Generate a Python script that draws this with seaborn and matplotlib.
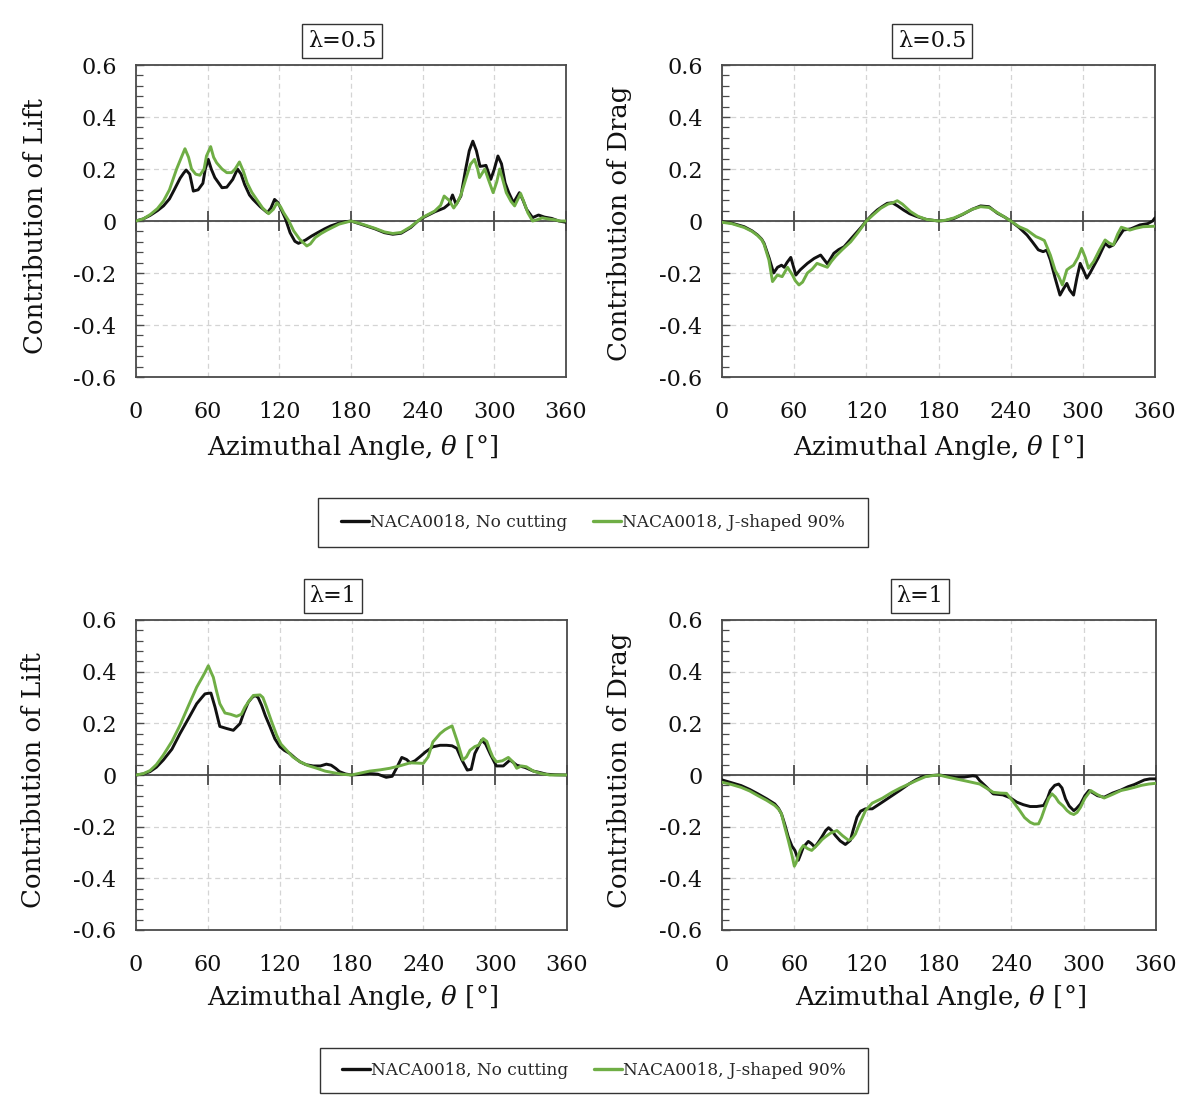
import numpy as np
import pandas as pd
import matplotlib
matplotlib.use("Agg")
import matplotlib.pyplot as plt
from matplotlib.lines import Line2D
from matplotlib.patches import Rectangle
from matplotlib.ticker import MultipleLocator
import seaborn as sns

sns.set_theme(style="white")
plt.rcParams["font.family"] = ["DejaVu Serif"]
plt.rcParams["mathtext.fontset"] = "dejavuserif"
plt.rcParams["axes.unicode_minus"] = False

BASE = "NACA0018, No cutting"
JCUT = "NACA0018, J-shaped 90%"
palette = {BASE: "#111111", JCUT: "#6fae45"}

# ---- lambda = 0.5, lift contribution ----
theta_lift05_base = [0, 6, 12, 18, 23, 28, 32, 37, 40, 42, 45, 48, 52, 56, 58, 60.5, 63, 66, 72, 76,
                     81, 85, 88, 91, 95, 98, 104, 110, 113, 116, 119, 121, 125, 129, 133, 136, 142, 147, 152, 158,
                     163, 170, 175, 180, 190, 200, 208, 215, 222, 230, 236, 240, 250, 258, 262, 265, 268, 272, 276, 279,
                     282, 285, 288, 291, 293, 297, 300, 303, 306, 309, 312, 316, 321, 324, 327, 332, 337, 342, 348, 354, 360]
lift05_base = [0, 0.008, 0.022, 0.04, 0.058, 0.085, 0.12, 0.165, 0.185, 0.196, 0.18, 0.115, 0.12, 0.145, 0.2, 0.237, 0.2, 0.167, 0.128, 0.13,
               0.16, 0.2, 0.18, 0.14, 0.1, 0.083, 0.055, 0.032, 0.05, 0.083, 0.07, 0.05, 0.01, -0.045, -0.078, -0.086, -0.073, -0.058, -0.045, -0.03,
               -0.019, -0.008, -0.003, 0, -0.015, -0.03, -0.045, -0.051, -0.047, -0.025, 0, 0.012, 0.035, 0.05, 0.065, 0.1, 0.064, 0.096, 0.2, 0.27,
               0.307, 0.27, 0.21, 0.212, 0.214, 0.16, 0.2, 0.25, 0.22, 0.147, 0.11, 0.07, 0.109, 0.08, 0.045, 0.013, 0.023, 0.015, 0.01, 0.0, -0.005]
theta_lift05_j = [0, 6, 12, 18, 23, 28, 34, 38, 41, 44, 46.5, 50, 53.5, 57, 59, 62.5, 65, 67.5, 72, 76,
                  80, 83, 86.6, 90, 93, 97, 101, 106, 111, 115, 118, 121, 123.6, 128, 132, 137, 143, 146, 150, 155,
                  160, 170, 180, 190, 200, 208, 215, 222, 230, 236, 240, 250, 255, 258, 262, 266, 269, 272, 276, 280,
                  283.4, 286, 287.6, 290, 292, 295, 299, 302, 304.5, 307, 310, 314, 317, 322, 325, 328, 332, 336, 340, 345,
                  350, 355, 360]
lift05_j = [0, 0.008, 0.025, 0.048, 0.077, 0.12, 0.2, 0.245, 0.278, 0.245, 0.2, 0.18, 0.176, 0.2, 0.25, 0.286, 0.245, 0.224, 0.2, 0.186,
            0.186, 0.2, 0.227, 0.19, 0.147, 0.11, 0.083, 0.05, 0.028, 0.045, 0.07, 0.055, 0.032, 0.0, -0.038, -0.07, -0.096, -0.088, -0.064, -0.048,
            -0.035, -0.012, 0, -0.013, -0.028, -0.042, -0.048, -0.044, -0.022, 0.0, 0.014, 0.038, 0.06, 0.096, 0.08, 0.05, 0.07, 0.1, 0.16, 0.218,
            0.237, 0.2, 0.167, 0.185, 0.2, 0.16, 0.109, 0.15, 0.2, 0.16, 0.109, 0.075, 0.058, 0.106, 0.07, 0.032, 0.0, 0.005, 0.012, 0.008,
            0.005, 0.0, 0.0]

# ---- lambda = 0.5, drag contribution ----
theta_drag05_base = [0, 8, 18.5, 25, 29.6, 33, 35, 39.3, 42.9, 46.2, 49.5, 51.7, 54, 57.2, 61.4, 65, 71, 76.6, 82, 87.6,
                     93, 97, 101.5, 106, 110, 115, 120, 125, 129, 133, 137.4, 141.6, 146, 151, 156, 162, 170, 180, 186, 193,
                     200, 208, 215, 222, 229, 235,
                     240, 247, 253.6, 258, 263, 267, 270, 273, 277, 281, 284, 286.7, 289, 292.3, 295, 297.8, 300.5, 303.3, 306, 308.9,
                     313, 318.5, 322, 325.4, 330, 333.7, 340, 347.5, 354, 358, 360]
drag05_base = [-0.003, -0.008, -0.022, -0.038, -0.054, -0.07, -0.086, -0.144, -0.2, -0.178, -0.17, -0.178, -0.16, -0.14, -0.208, -0.188, -0.163, -0.144, -0.131, -0.165,
               -0.124, -0.11, -0.099, -0.075, -0.054, -0.028, 0.0, 0.025, 0.042, 0.055, 0.068, 0.07, 0.058, 0.042, 0.028, 0.017, 0.006, 0.0, 0.002, 0.01,
               0.025, 0.045, 0.058, 0.055, 0.03, 0.015,
               0, -0.025, -0.054, -0.08, -0.111, -0.118, -0.112, -0.15, -0.22, -0.285, -0.26, -0.24, -0.265, -0.285, -0.22, -0.163, -0.19, -0.22, -0.2, -0.175,
               -0.14, -0.086, -0.1, -0.092, -0.06, -0.035, -0.03, -0.015, -0.01, 0.0, 0.012]
theta_drag05_j = [0, 8, 18.5, 25, 29.6, 33, 35, 39, 42, 46, 50, 54.5, 58.6, 61, 64, 67, 71, 75, 79, 83,
                  87.6, 91, 94.6, 100, 107, 113, 120, 126, 132, 138, 142, 145.7, 150, 156.8, 163, 170, 180, 186, 193, 200,
                  208, 215, 222, 229, 235,
                  240, 247, 253.6, 258, 261, 264.6, 268, 273, 277, 280, 283, 286.7, 289, 292.3, 296, 299, 302, 304.7, 309, 314,
                  318.5, 322, 325.4, 329, 332, 336, 339, 344, 350, 355, 360]
drag05_j = [-0.005, -0.01, -0.025, -0.04, -0.056, -0.072, -0.09, -0.15, -0.233, -0.208, -0.214, -0.178, -0.208, -0.23, -0.246, -0.235, -0.2, -0.185, -0.163, -0.17,
            -0.178, -0.155, -0.135, -0.11, -0.08, -0.045, 0.0, 0.025, 0.049, 0.065, 0.07, 0.078, 0.065, 0.036, 0.018, 0.006, 0.0, 0.003, 0.012, 0.026,
            0.045, 0.055, 0.052, 0.032, 0.015,
            0.0, -0.022, -0.035, -0.05, -0.06, -0.067, -0.075, -0.131, -0.19, -0.214, -0.246, -0.188, -0.18, -0.17, -0.14, -0.105, -0.14, -0.182, -0.156, -0.11,
            -0.073, -0.085, -0.092, -0.05, -0.024, -0.03, -0.035, -0.028, -0.022, -0.021, -0.02]

# ---- lambda = 1, lift contribution ----
theta_lift1_base = [0, 6, 11.7, 17, 22.8, 30, 36.7, 44, 50.7, 55, 57.6, 60, 62.6, 66, 70, 75.7, 81.3, 86.9, 90, 93.8,
                    97, 99.4, 102, 105, 108, 112, 116, 120.3, 124, 128.6, 133, 137, 142, 148, 154, 159, 163, 167, 170, 175,
                    180, 188, 195, 202, 209, 214, 218, 222, 226, 229, 233, 237, 242, 248, 254, 259.5, 264, 268, 272, 276.7,
                    280, 283, 288.7, 292, 296, 301, 306.8, 312.4, 318, 325, 332, 337, 343, 350, 360]
lift1_base = [0, 0.004, 0.013, 0.03, 0.058, 0.1, 0.16, 0.22, 0.276, 0.3, 0.314, 0.316, 0.317, 0.263, 0.188, 0.18, 0.173, 0.199, 0.24, 0.282,
              0.3, 0.308, 0.3, 0.269, 0.23, 0.186, 0.14, 0.109, 0.095, 0.083, 0.065, 0.051, 0.04, 0.035, 0.035, 0.042, 0.038, 0.025, 0.013, 0.004,
              0, 0.002, 0.006, 0.003, -0.009, -0.005, 0.03, 0.068, 0.06, 0.047, 0.055, 0.07, 0.09, 0.109, 0.115, 0.115, 0.113, 0.103, 0.06, 0.019,
              0.022, 0.083, 0.135, 0.12, 0.08, 0.035, 0.035, 0.058, 0.038, 0.029, 0.015, 0.01, 0.003, 0.001, 0]
theta_lift1_j = [0, 6, 11.7, 17, 22.8, 30, 36.7, 44, 50.7, 55, 57.6, 60.4, 62, 64.6, 67, 70, 74.3, 79, 84, 88,
                 91, 95, 98, 103.6, 106, 109, 113, 117.5, 121, 125.8, 131, 137, 144, 151, 158, 164.8, 172, 180, 188, 195,
                 204, 212, 220, 229, 235, 240, 244, 248, 254, 258, 261, 264, 268, 273, 276, 279, 283, 286, 290, 293,
                 295.6, 298, 301, 306, 311, 315, 318, 322, 326, 332, 338, 345.8, 352, 360]
lift1_j = [0, 0.005, 0.017, 0.04, 0.077, 0.13, 0.192, 0.27, 0.34, 0.375, 0.397, 0.423, 0.405, 0.378, 0.33, 0.276, 0.24, 0.235, 0.227, 0.235,
           0.263, 0.29, 0.308, 0.31, 0.3, 0.263, 0.21, 0.154, 0.12, 0.096, 0.07, 0.051, 0.036, 0.026, 0.015, 0.009, 0.003, 0, 0.008, 0.015,
           0.02, 0.026, 0.035, 0.047, 0.046, 0.045, 0.07, 0.128, 0.16, 0.175, 0.183, 0.19, 0.135, 0.058, 0.07, 0.096, 0.11, 0.115, 0.141, 0.13,
           0.096, 0.07, 0.051, 0.055, 0.068, 0.05, 0.026, 0.035, 0.032, 0.015, 0.006, 0.0, 0.0, 0.0]

# ---- lambda = 1, drag contribution ----
theta_drag1_base = [0, 8, 15.9, 23, 29.8, 37, 43.8, 47, 49.3, 52, 55, 58, 60.5, 63.3, 65, 67.5, 71.6, 74, 77, 80,
                    82.8, 86, 88.4, 91, 94, 98, 102.3, 106.5, 109, 112, 115, 119, 124.6, 133, 141, 148, 155, 161, 166.4, 173,
                    180, 187, 194, 201, 208, 211, 213.8, 219, 225, 233, 239, 244.5, 250, 255.6, 261, 266.8, 270, 272.3, 276, 279.3,
                    282, 285, 288, 291.8, 294, 297.4, 301, 304.4, 308, 311.4, 317, 324, 331, 337, 342, 350.4, 355, 360]
drag1_base = [-0.019, -0.03, -0.041, -0.056, -0.073, -0.092, -0.112, -0.13, -0.15, -0.19, -0.24, -0.275, -0.292, -0.33, -0.31, -0.279, -0.257, -0.265, -0.279, -0.26,
              -0.24, -0.215, -0.204, -0.215, -0.234, -0.255, -0.269, -0.253, -0.21, -0.163, -0.14, -0.131, -0.131, -0.105, -0.08, -0.058, -0.035, -0.018, -0.006, -0.002,
              0, -0.004, -0.009, -0.008, -0.003, -0.005, -0.022, -0.045, -0.073, -0.077, -0.088, -0.105, -0.115, -0.122, -0.122, -0.118, -0.09, -0.06, -0.04, -0.035,
              -0.05, -0.093, -0.12, -0.138, -0.13, -0.112, -0.08, -0.06, -0.07, -0.08, -0.086, -0.07, -0.058, -0.045, -0.037, -0.019, -0.015, -0.015]
theta_drag1_j = [0, 8, 15.9, 23, 29.8, 37, 43.8, 47, 49.3, 52, 55, 58, 60, 61.5, 63.3, 65, 67.5, 71, 74.4, 77,
                 80, 83, 85.6, 90, 95.3, 100, 105, 108, 110.7, 114, 119, 124.6, 133, 141, 148, 155, 162, 169, 175, 180,
                 187, 194, 204, 213.8, 219, 225, 231, 236, 241, 247, 251, 255.6, 259, 262.6, 265, 268, 271, 273.7, 276.5, 279.3,
                 283, 286.3, 289, 291.8, 294.5, 297.4, 301, 305.8, 311, 317, 324, 331, 336, 342, 348, 354, 360]
drag1_j = [-0.028, -0.037, -0.048, -0.062, -0.08, -0.098, -0.118, -0.133, -0.15, -0.2, -0.253, -0.31, -0.353, -0.34, -0.311, -0.29, -0.273, -0.285, -0.292, -0.28,
           -0.266, -0.25, -0.24, -0.225, -0.215, -0.235, -0.253, -0.245, -0.228, -0.19, -0.138, -0.109, -0.09, -0.067, -0.05, -0.035, -0.02, -0.006, -0.002, 0,
           -0.008, -0.015, -0.025, -0.035, -0.05, -0.067, -0.07, -0.071, -0.1, -0.138, -0.165, -0.183, -0.19, -0.189, -0.165, -0.125, -0.09, -0.073, -0.085, -0.105,
           -0.12, -0.138, -0.148, -0.153, -0.145, -0.125, -0.09, -0.06, -0.075, -0.089, -0.075, -0.06, -0.055, -0.048, -0.04, -0.035, -0.032]

x_ticks = [0, 60, 120, 180, 240, 300, 360]
y_ticks = [-0.6, -0.4, -0.2, 0, 0.2, 0.4, 0.6]
y_ticklabels = ["-0.6", "-0.4", "-0.2", "0", "0.2", "0.4", "0.6"]


def long_frame(theta_a, vals_a, theta_b, vals_b):
    a = pd.DataFrame({"theta": theta_a, "value": vals_a, "case": BASE})
    b = pd.DataFrame({"theta": theta_b, "value": vals_b, "case": JCUT})
    return pd.concat([a, b], ignore_index=True)


W, H = 1182, 1095
fig = plt.figure(figsize=(W / 100, H / 100), dpi=100)
fig.patch.set_facecolor("white")

SPINE = "#4a4a4a"
TEXT = "#111111"

panels = [
    dict(box=(136, 65, 566, 377), data=long_frame(theta_lift05_base, lift05_base, theta_lift05_j, lift05_j),
         ylabel="Contribution of Lift", title="λ=0.5", title_xy=(342, 41), ylab_xy=(36, 226), xlab_xy=(352, 447)),
    dict(box=(722, 65, 1155, 377), data=long_frame(theta_drag05_base, drag05_base, theta_drag05_j, drag05_j),
         ylabel="Contribution of Drag", title="λ=0.5", title_xy=(932, 41), ylab_xy=(620, 223), xlab_xy=(938, 447)),
    dict(box=(136, 620, 567, 930), data=long_frame(theta_lift1_base, lift1_base, theta_lift1_j, lift1_j),
         ylabel="Contribution of Lift", title="λ=1", title_xy=(333, 596), ylab_xy=(34, 780), xlab_xy=(352, 997)),
    dict(box=(722, 620, 1156, 930), data=long_frame(theta_drag1_base, drag1_base, theta_drag1_j, drag1_j),
         ylabel="Contribution of Drag", title="λ=1", title_xy=(920, 596), ylab_xy=(620, 770), xlab_xy=(940, 997)),
]

for p in panels:
    l, t, r, b = p["box"]
    ax = fig.add_axes([l / W, 1 - b / H, (r - l) / W, (b - t) / H])
    sns.lineplot(data=p["data"], x="theta", y="value", hue="case", palette=palette,
                 errorbar=None, estimator=None, linewidth=2.1, legend=False, ax=ax, zorder=4)

    ax.set_xlim(0, 360)
    ax.set_ylim(-0.6, 0.6)
    ax.set_xticks(x_ticks)
    ax.set_xticklabels([str(v) for v in x_ticks])
    ax.set_yticks(y_ticks)
    ax.set_yticklabels(y_ticklabels)
    ax.yaxis.set_minor_locator(MultipleLocator(0.04))

    ax.tick_params(axis="x", which="both", length=0, pad=17, labelsize=16, labelcolor=TEXT)
    ax.tick_params(axis="y", which="major", direction="in", left=True, length=6, width=1.0,
                   color=SPINE, pad=14, labelsize=16, labelcolor=TEXT)
    ax.tick_params(axis="y", which="minor", direction="in", left=True, length=5, width=0.9, color=SPINE)

    ax.grid(True, which="major", linestyle=(0, (4, 3)), color="#d4d4d4", linewidth=0.9)
    ax.set_axisbelow(True)
    for s in ax.spines.values():
        s.set_visible(True)
        s.set_color(SPINE)
        s.set_linewidth(1.3)

    # horizontal zero axis with crossing tick marks
    zero_ax = ax.secondary_xaxis(0.5)
    zero_ax.set_zorder(3)
    zero_ax.set_xticks(x_ticks)
    zero_ax.tick_params(axis="x", which="major", direction="inout", length=15, width=1.3, color=SPINE,
                        labeltop=False, labelbottom=False)
    for s in zero_ax.spines.values():
        s.set_color(SPINE)
        s.set_linewidth(1.3)

    ax.set_xlabel("")
    ax.set_ylabel("")
    fig.text(p["xlab_xy"][0] / W, 1 - p["xlab_xy"][1] / H, r"Azimuthal Angle, $\theta$ [°]",
             ha="center", va="center", fontsize=18.7, color=TEXT)
    fig.text(p["ylab_xy"][0] / W, 1 - p["ylab_xy"][1] / H, p["ylabel"], rotation=90,
             ha="center", va="center", fontsize=18.7, color=TEXT)
    fig.text(p["title_xy"][0] / W, 1 - p["title_xy"][1] / H, p["title"], ha="center", va="center",
             fontsize=16, color=TEXT,
             bbox=dict(boxstyle="square,pad=0.25", facecolor="white", edgecolor="#333333", linewidth=1.0))

handles = [Line2D([], [], color=palette[BASE], linewidth=2.4),
           Line2D([], [], color=palette[JCUT], linewidth=2.4)]
for (x0, y0, x1, y1) in [(318, 498, 868, 547), (320, 1048, 868, 1093)]:
    fig.patches.append(Rectangle((x0 / W, 1 - y1 / H), (x1 - x0) / W, (y1 - y0) / H,
                                 transform=fig.transFigure, fill=False,
                                 edgecolor="#333333", linewidth=1.0))
    fig.legend(handles, [BASE, JCUT], loc="center",
               bbox_to_anchor=((x0 + x1) / 2 / W, 1 - (y0 + y1) / 2 / H),
               ncol=2, frameon=False, fontsize=12.2,
               handlelength=1.65, handletextpad=0.05, columnspacing=1.5,
               borderpad=0.3, borderaxespad=0)

fig.savefig("out.png", dpi=100, facecolor="white")
